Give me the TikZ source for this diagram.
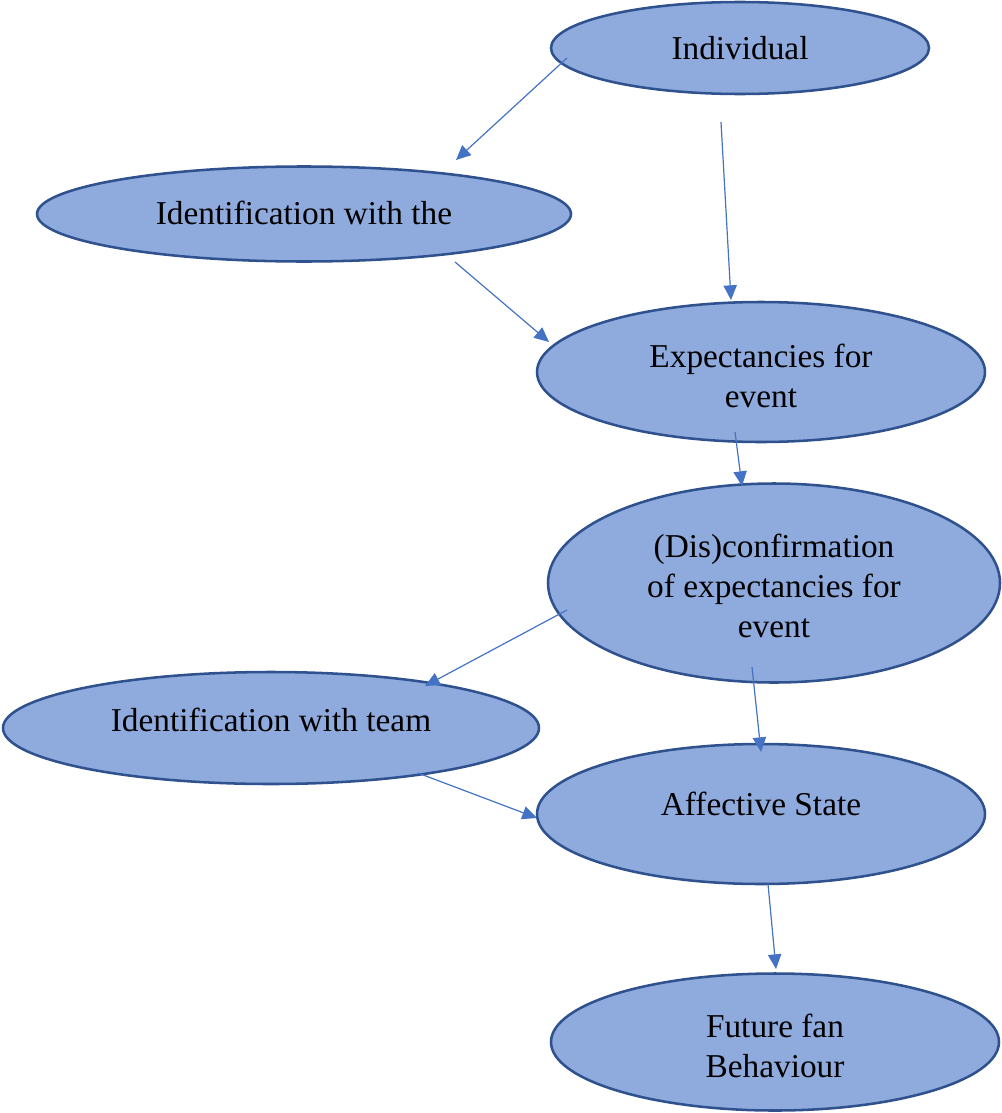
\documentclass[tikz,border=0pt]{standalone}
\usepackage{fontspec}
\setmainfont{Liberation Serif}
\usetikzlibrary{shapes.geometric,arrows.meta}
\definecolor{efill}{HTML}{8FAADC}
\definecolor{edraw}{HTML}{2F528F}
\definecolor{arr}{HTML}{4472C4}
\tikzset{
  oval/.style={ellipse, draw=edraw, fill=efill, line width=1.9pt, inner sep=0pt},
  txt/.style={align=center, font=\fontsize{25}{30}\selectfont, text=black},
  conn/.style={draw=arr, line width=0.9pt, -{Triangle[length=11pt,width=10pt]}}
}
\begin{document}
\begin{tikzpicture}[x=0.75pt,y=-0.75pt]
\useasboundingbox (0,0) rectangle (1001,1113);
% ellipses
\node[oval, minimum width=283.5pt, minimum height=69pt] (ind) at (740,48) {};
\node[txt] (tind) at (740,48) {Individual};
\node[oval, minimum width=400.5pt, minimum height=71.25pt] (idt) at (304,214) {};
\node[txt] (tidt) at (304,213) {Identification with the};
\node[oval, minimum width=336pt, minimum height=105pt] (exp) at (761,372) {};
\node[txt] (texp) at (761,376) {Expectancies for\\event};
\node[oval, minimum width=339pt, minimum height=149.25pt] (dis) at (774,583) {};
\node[txt] (tdis) at (774,586) {(Dis)confirmation\\of expectancies for\\event};
\node[oval, minimum width=402pt, minimum height=84pt] (team) at (271,728) {};
\node[txt] (tteam) at (271,720) {Identification with team};
\node[oval, minimum width=336pt, minimum height=105pt] (aff) at (761,814) {};
\node[txt] (taff) at (761,804) {Affective State};
\node[oval, minimum width=336pt, minimum height=102.75pt] (fut) at (775,1042) {};
\node[txt] (tfut) at (775,1046) {Future fan\\Behaviour};
% connector end points
\coordinate (a1) at (567,58);  \coordinate (b1) at (456,160);
\coordinate (a2) at (721,122); \coordinate (b2) at (731,300);
\coordinate (a3) at (455,262); \coordinate (b3) at (549,342);
\coordinate (a4) at (735,432); \coordinate (b4) at (742,486);
\coordinate (a5) at (567,610); \coordinate (b5) at (425,686);
\coordinate (a6) at (752,667); \coordinate (b6) at (761,752);
\coordinate (a7) at (418,773); \coordinate (b7) at (537,818);
\coordinate (a8) at (768,884); \coordinate (b8) at (776,969);
\foreach \i in {1,...,8} { \draw[conn] (a\i) -- (b\i); }
\end{tikzpicture}
\end{document}
